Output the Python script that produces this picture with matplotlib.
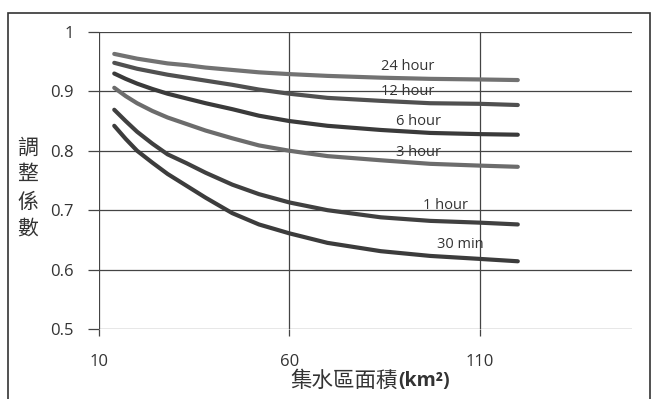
import matplotlib.pyplot as plt
from matplotlib.patches import Rectangle

plt.rcParams["font.family"] = ["Open Sans", "Noto Sans CJK TC", "DejaVu Sans"]

# catchment area (km2) and adjustment factor
area = [14, 17, 20, 24, 28, 33, 38, 45, 52, 60, 70, 84, 97, 110, 120]
h24 = [0.963, 0.959, 0.955, 0.951, 0.947, 0.944, 0.940, 0.936, 0.932, 0.929, 0.926, 0.923, 0.921, 0.920, 0.919]
h12 = [0.948, 0.943, 0.938, 0.933, 0.928, 0.923, 0.918, 0.911, 0.903, 0.896, 0.889, 0.884, 0.880, 0.879, 0.877]
h6 = [0.930, 0.921, 0.913, 0.904, 0.896, 0.888, 0.880, 0.870, 0.859, 0.850, 0.842, 0.835, 0.830, 0.828, 0.827]
h3 = [0.906, 0.892, 0.880, 0.867, 0.856, 0.845, 0.834, 0.821, 0.809, 0.800, 0.791, 0.784, 0.778, 0.775, 0.773]
h1 = [0.869, 0.850, 0.832, 0.812, 0.794, 0.779, 0.763, 0.743, 0.727, 0.713, 0.700, 0.688, 0.682, 0.679, 0.676]
m30 = [0.842, 0.820, 0.800, 0.780, 0.761, 0.741, 0.721, 0.695, 0.676, 0.661, 0.645, 0.631, 0.623, 0.618, 0.614]

names = ["24 hour", "12 hour", "6 hour", "3 hour", "1 hour", "30 min"]
values = [h24, h12, h6, h3, h1, m30]
colors = ["#727272", "#505050", "#3a3a3a", "#6c6c6c", "#404040", "#3c3c3c"]
label_x = [91, 91, 94, 94, 101, 105]
label_y = [0.941, 0.899, 0.850, 0.797, 0.708, 0.642]

xticks = [10, 60, 110]
yticks = [0.5, 0.6, 0.7, 0.8, 0.9, 1.0]
ytick_labels = ["0.5", "0.6", "0.7", "0.8", "0.9", "1"]

fig = plt.figure(figsize=(6.58, 3.99), dpi=100)
ax = fig.add_axes([0.1505, 0.1754, 0.9605 - 0.1505, 0.920 - 0.1754])

for name, vals, c, lx, ly in zip(names, values, colors, label_x, label_y):
    ax.plot(area, vals, color=c, lw=3.0, solid_capstyle="round", solid_joinstyle="round")
    ax.text(lx, ly, name, ha="center", va="center", fontsize=10.5, color="#333333")

ax.set_xlim(10, 150)
ax.set_ylim(0.5, 1.0)
ax.set_xticks(xticks)
ax.set_yticks(yticks)
ax.set_yticklabels(ytick_labels)
ax.grid(True, color="#444444", lw=0.9)
for s in ax.spines.values():
    s.set_visible(False)
ax.tick_params(axis="y", length=8, width=0.9, color="#444444", pad=10,
               labelsize=12, labelcolor="#333333")
ax.tick_params(axis="x", length=5, width=0.9, color="#444444", pad=13,
               labelsize=12, labelcolor="#333333")

fig.text(0.605, 0.046, "集水區面積", fontsize=15.5, ha="right", va="center",
         family=["Noto Sans CJK TC"], color="#333333")
fig.text(0.605, 0.046, "(km²)", fontsize=14, ha="left", va="center",
         fontweight="bold", color="#333333")
fig.text(0.042, 0.529, "調\n整\n係\n數", fontsize=15, ha="center", va="center",
         family=["Noto Sans CJK TC"], linespacing=1.3, color="#333333")

fig.patches.append(Rectangle((8 / 658, -0.01), (650 - 8) / 658, 1 - 13 / 399 + 0.01,
                             transform=fig.transFigure, fill=False,
                             edgecolor="#333333", lw=1.2))

fig.savefig("out.png", dpi=100)
